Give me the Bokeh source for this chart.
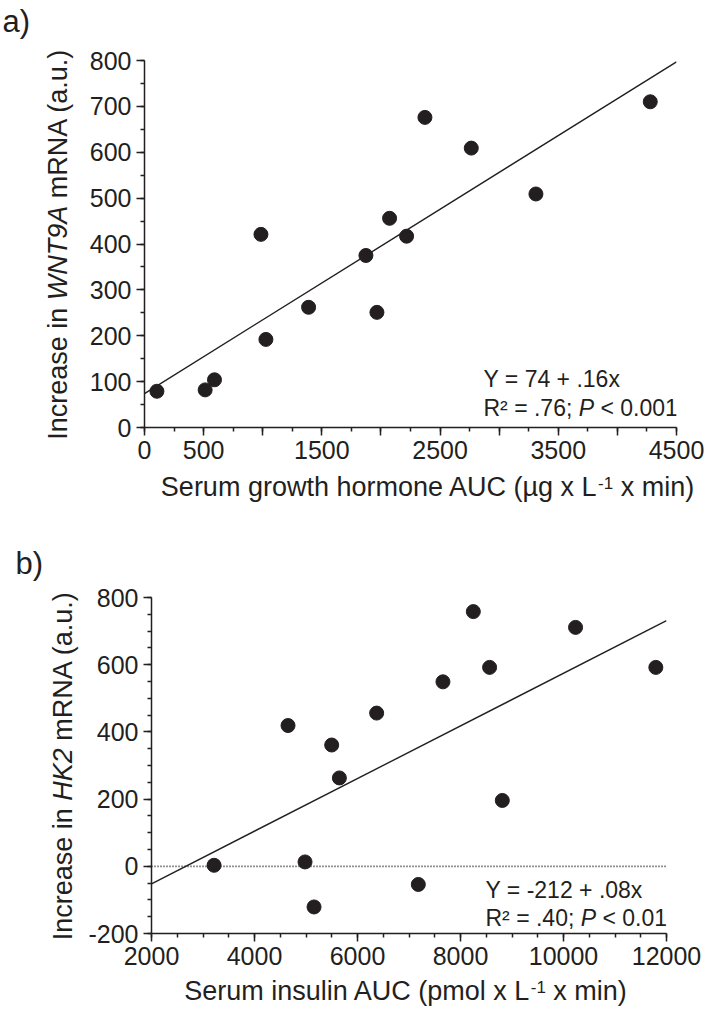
import math
from bokeh.plotting import figure
from bokeh.layouts import column, row
from bokeh.models import FixedTicker, Label, Span
from bokeh.core.properties import value
from bokeh.embed import file_html
from bokeh.resources import INLINE

# ---------------- data ----------------
# panel a: serum growth hormone AUC vs increase in WNT9A mRNA
gh_auc = [105, 513, 592, 985, 1027, 1388, 1873, 1966, 2073, 2217, 2372, 2764, 3311, 4278]
wnt9a_increase = [79, 82, 104, 421, 192, 262, 375, 251, 456, 417, 676, 609, 509, 710]
gh_fit_x = [0, 4500]
gh_fit_y = [74, 797]
gh_xticks = [0, 500, 1000, 1500, 2000, 2500, 3000, 3500, 4000, 4500]
gh_xlabels = ["0", "500", "", "1500", "", "2500", "", "3500", "", "4500"]
gh_xminor = [0, 250, 500, 750, 1000, 1250, 1500, 1750, 2000, 2250, 2500, 2750,
             3000, 3250, 3500, 3750, 4000, 4250, 4500]
wnt_yticks = [0, 100, 200, 300, 400, 500, 600, 700, 800]
wnt_ylabels = ["0", "100", "200", "300", "400", "500", "600", "700", "800"]
wnt_yminor = [0, 50, 100, 150, 200, 250, 300, 350, 400, 450, 500, 550, 600, 650, 700, 750, 800]

# panel b: serum insulin AUC vs increase in HK2 mRNA
ins_auc = [3215, 4651, 4981, 5156, 5499, 5648, 6372, 7181, 7659, 8249, 8565, 8812, 10234, 11793]
hk2_increase = [3, 419, 13, -121, 361, 263, 456, -54, 549, 758, 592, 196, 711, 592]
ins_fit_x = [2000, 12000]
ins_fit_y = [-52, 731]
ins_xticks = [2000, 4000, 6000, 8000, 10000, 12000]
ins_xlabels = ["2000", "4000", "6000", "8000", "10000", "12000"]
ins_xminor = [2000, 2500, 3000, 3500, 4000, 4500, 5000, 5500, 6000, 6500, 7000, 7500,
              8000, 8500, 9000, 9500, 10000, 10500, 11000, 11500, 12000]
hk2_yticks = [-200, 0, 200, 400, 600, 800]
hk2_ylabels = ["-200", "0", "200", "400", "600", "800"]
hk2_yminor = [-200, -150, -100, -50, 0, 50, 100, 150, 200, 250, 300, 350, 400, 450,
              500, 550, 600, 650, 700, 750, 800]

# ---------------- style ----------------
FONT = "Liberation Sans"
INK = "#231f20"
MID = 0.347  # distance of the em-box middle above the baseline, in em

ADV = {' ': 278, '(': 333, ')': 333, '.': 278, ';': 278, '-': 333, '+': 584, '=': 584,
       '<': 584, '\u00b2': 333, '\u00b5': 576,
       'A': 667, 'C': 722, 'H': 722, 'I': 278, 'K': 667, 'L': 556, 'N': 722, 'P': 667,
       'R': 722, 'S': 667, 'T': 611, 'U': 722, 'W': 944, 'Y': 667,
       'a': 556, 'b': 556, 'c': 500, 'e': 556, 'g': 556, 'h': 556, 'i': 222, 'l': 222,
       'm': 833, 'n': 556, 'o': 556, 'p': 556, 'r': 333, 's': 500, 't': 278, 'u': 556,
       'w': 722, 'x': 500}


def text_width(s, size):
    return sum(ADV.get(ch, 556) for ch in s) * size / 1000.0


def layout_runs(runs, center):
    total = sum(text_width(t, s) for t, s, st, r in runs)
    pos = -total / 2.0 if center else 0.0
    out = []
    for t, s, st, rise in runs:
        lead = len(t) - len(t.lstrip(' '))
        pos += text_width(' ' * lead, s)
        out.append((pos, t.strip(' '), s, st, rise))
        pos += text_width(t[lead:], s)
    return out


def make_main(W, H, ml, mr, mt, mb, xr, yr):
    p = figure(width=W, height=H, x_range=xr, y_range=yr, output_backend="svg",
               toolbar_location=None, title=None, min_border_left=ml, min_border_right=mr,
               min_border_top=mt, min_border_bottom=mb)
    p.outline_line_color = None
    p.grid.visible = False
    p.background_fill_color = "white"
    p.border_fill_color = "white"
    fl, fr, ft, fb = ml, W - mr, mt, H - mb

    def conv(fx, fy):
        x = xr[0] + (fx - fl) / (fr - fl) * (xr[1] - xr[0])
        y = yr[1] - (fy - ft) / (fb - ft) * (yr[1] - yr[0])
        return x, y
    return p, conv


def make_strip(W, H):
    p = figure(width=W, height=H, x_range=(0, W), y_range=(0, H), output_backend="svg",
               toolbar_location=None, title=None, x_axis_location=None,
               y_axis_location=None, min_border=0)
    p.outline_line_color = None
    p.grid.visible = False
    p.background_fill_color = "white"
    p.border_fill_color = "white"
    return p


def style_axes(p, xt, xl, xm, yt, yl, ym):
    p.xaxis.ticker = FixedTicker(ticks=xt, minor_ticks=xm)
    p.xaxis.major_label_overrides = {t: l for t, l in zip(xt, xl)}
    p.yaxis.ticker = FixedTicker(ticks=yt, minor_ticks=ym)
    p.yaxis.major_label_overrides = {t: l for t, l in zip(yt, yl)}
    for ax in (p.xaxis[0], p.yaxis[0]):
        ax.axis_line_color = INK
        ax.axis_line_width = 1.5
        ax.major_tick_line_color = INK
        ax.major_tick_line_width = 1.5
        ax.major_tick_out = 8
        ax.major_tick_in = 0
        ax.minor_tick_line_color = INK
        ax.minor_tick_line_width = 1.5
        ax.minor_tick_out = 4
        ax.minor_tick_in = 0
        ax.major_label_text_font = FONT
        ax.major_label_text_font_size = "25px"
        ax.major_label_text_color = INK
        ax.major_label_standoff = 5


def label_runs(p, conv, fx, fy, runs):
    """In-frame annotation text; fx/fy = baseline start in figure pixels from the top-left."""
    for off, body, s, st, rise in layout_runs(runs, False):
        x, y = conv(fx + off, fy - rise - MID * s)
        p.add_layout(Label(x=x, y=y, text=body, text_font=FONT, text_font_size=f"{s}px",
                           text_font_style=st, text_color=INK, text_align="left",
                           text_baseline="middle"))


def strip_runs(p, H, px, py, runs, vertical=False, center=False):
    """Text in a text-only strip; px/py = baseline point in strip pixels from the top-left."""
    for off, body, s, st, rise in layout_runs(runs, center):
        if vertical:
            x, y, ang = px - rise - MID * s, (H - py) + off, math.pi / 2
        else:
            x, y, ang = px + off, (H - py) + rise + MID * s, 0.0
        p.text(x=[x], y=[y], text=[body], angle=ang, text_font=value(FONT),
               text_font_size=value(f"{s}px"), text_font_style=value(st),
               text_color=INK, text_align=value("left"), text_baseline=value("middle"))


# ---------------- panel a (page rows 0-470 plot, 470-510 x title) ----------------
main_a, ca = make_main(634, 470, 64, 38, 60, 43, (0, 4500), (0, 800))
style_axes(main_a, gh_xticks, gh_xlabels, gh_xminor, wnt_yticks, wnt_ylabels, wnt_yminor)
main_a.line(gh_fit_x, gh_fit_y, line_color=INK, line_width=1.4)
main_a.scatter(gh_auc, wnt9a_increase, size=14, marker="circle", fill_color=INK, line_color=INK)
label_runs(main_a, ca, 403, 386.7, [("Y = 74 + .16x", 23, "normal", 0)])
label_runs(main_a, ca, 403, 415, [("R\u00b2 = .76; ", 23, "normal", 0), ("P", 23, "italic", 0),
                                  (" < 0.001", 23, "normal", 0)])

bottom_a = make_strip(634, 40)
strip_runs(bottom_a, 40, 347, 26, [("Serum growth hormone AUC (\u00b5g x L", 27, "normal", 0),
                                   ("-1", 17, "normal", 8),
                                   (" x min)", 27, "normal", 0)], center=True)

# ---------------- panel b (page rows 510-975 plot, 975-1011 x title) ----------------
main_b, cb = make_main(634, 465, 71, 48, 87, 42, (2000, 12000), (-200, 800))
style_axes(main_b, ins_xticks, ins_xlabels, ins_xminor, hk2_yticks, hk2_ylabels, hk2_yminor)
main_b.add_layout(Span(location=0, dimension="width", line_color="#222222", line_width=1.8,
                       line_dash="1 2"))
main_b.line(ins_fit_x, ins_fit_y, line_color=INK, line_width=1.4)
main_b.scatter(ins_auc, hk2_increase, size=14, marker="circle", fill_color=INK, line_color=INK)
label_runs(main_b, cb, 405, 387.7, [("Y = -212 + .08x", 23, "normal", 0)])
label_runs(main_b, cb, 405, 415.7, [("R\u00b2 = .40; ", 23, "normal", 0), ("P", 23, "italic", 0),
                                    (" < 0.01", 23, "normal", 0)])

bottom_b = make_strip(634, 36)
strip_runs(bottom_b, 36, 325, 25, [("Serum insulin AUC (pmol x L", 27, "normal", 0),
                                   ("-1", 17, "normal", 8),
                                   (" x min)", 27, "normal", 0)], center=True)

# ---------------- left strip: panel letters and y titles ----------------
left = make_strip(80, 1011)
strip_runs(left, 1011, 2, 31.5, [("a)", 31, "normal", 0)])
strip_runs(left, 1011, 66.5, 243.5, [("Increase in ", 27, "normal", 0), ("WNT9A", 27, "italic", 0),
                                     (" mRNA (a.u.)", 27, "normal", 0)],
           vertical=True, center=True)
strip_runs(left, 1011, 15, 573.5, [("b)", 31, "normal", 0)])
strip_runs(left, 1011, 71.5, 765, [("Increase in ", 27, "normal", 0), ("HK2", 27, "italic", 0),
                                   (" mRNA (a.u.)", 27, "normal", 0)],
           vertical=True, center=True)

layout = row(
    column(left),
    column(row(main_a), row(bottom_a), row(main_b), row(bottom_b), spacing=0),
    spacing=0,
)
open("out.html", "w").write(file_html(layout, INLINE))
